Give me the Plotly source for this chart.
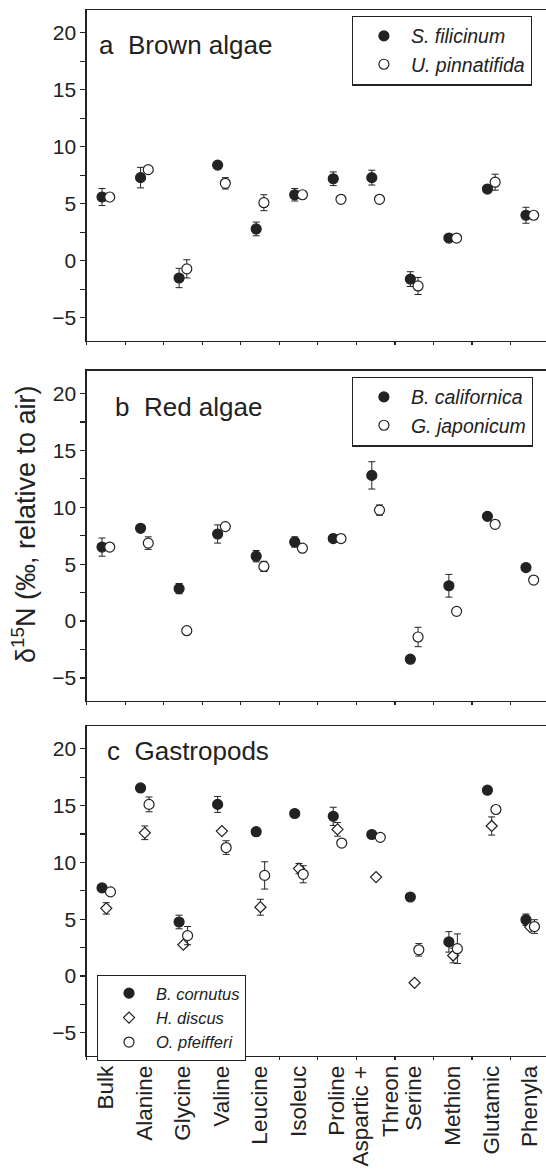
import numpy as np
import plotly.graph_objects as go

categories = ["Bulk", "Alanine", "Glycine", "Valine", "Leucine", "Isoleuc", "Proline",
              "Aspartic +<br>Threon", "Serine", "Methion", "Glutamic", "Phenyla"]

# Panel a: Brown algae
s_filicinum = [5.6, 7.3, -1.5, 8.4, 2.8, 5.8, 7.2, 7.3, -1.6, 2.0, 6.3, 4.0]
s_filicinum_err = [0.75, 0.9, 0.85, 0, 0.6, 0.55, 0.6, 0.65, 0.65, 0, 0, 0.7]
u_pinnatifida = [5.6, 8.0, -0.7, 6.8, 5.1, 5.8, 5.4, 5.4, -2.2, 2.0, 6.9, 4.0]
u_pinnatifida_err = [0, 0, 0.8, 0.5, 0.7, 0, 0, 0, 0.75, 0, 0.7, 0]

# Panel b: Red algae
b_californica = [6.5, 8.15, 2.85, 7.65, 5.7, 6.95, 7.25, 12.8, -3.35, 3.1, 9.2, 4.7]
b_californica_err = [0.8, 0, 0.45, 0.8, 0.5, 0.45, 0, 1.2, 0, 1.0, 0, 0]
g_japonicum = [6.5, 6.85, -0.85, 8.3, 4.8, 6.4, 7.25, 9.75, -1.4, 0.85, 8.5, 3.6]
g_japonicum_err = [0, 0.55, 0, 0, 0.45, 0, 0, 0.45, 0.85, 0, 0, 0]

# Panel c: Gastropods
b_cornutus = [7.75, 16.55, 4.75, 15.1, 12.7, 14.3, 14.05, 12.45, 6.95, 3.0, 16.35, 4.95]
b_cornutus_err = [0, 0, 0.6, 0.7, 0, 0, 0.8, 0, 0, 0.9, 0, 0.5]
h_discus = [5.95, 12.6, 2.75, 12.75, 6.05, 9.45, 12.9, 8.7, -0.6, 1.8, 13.2, 4.3]
h_discus_err = [0.5, 0.6, 0, 0, 0.7, 0.45, 0.6, 0, 0, 0.65, 0.8, 0]
o_pfeifferi = [7.4, 15.1, 3.55, 11.3, 8.85, 8.95, 11.7, 12.2, 2.3, 2.4, 14.65, 4.35]
o_pfeifferi_err = [0, 0.65, 0.8, 0.6, 1.2, 0.75, 0, 0, 0.55, 1.3, 0, 0.6]

W, H = 546, 1170
pos = np.arange(len(categories))
bounds = np.arange(len(categories) + 1) - 0.5
XRANGE = [-0.5, 11.42]
YRANGE = [-7, 22]
X0 = 86.6 / W
INK = "#222222"
FONT = "Liberation Sans, Arial, sans-serif"

def py(px):
    return 1 - px / H

domains = [(py(340.7), py(10)), (py(700.7), py(370.7)), (py(1055.5), py(726))]

fig = go.Figure()

def add(series, err, name, xi, legend, offset, symbol, filled, size=10):
    sfx = "" if xi == 1 else str(xi)
    fig.add_trace(go.Scatter(
        x=pos + offset, y=series, mode="markers", name=name,
        xaxis="x" + sfx, yaxis="y" + sfx, legend=legend,
        marker=dict(symbol=symbol, size=size,
                    color=INK if filled else "white",
                    line=dict(color=INK, width=1.2)),
        error_y=dict(type="data", array=err, visible=True, color=INK,
                     thickness=1, width=3.5),
        cliponaxis=False,
    ))

add(s_filicinum, s_filicinum_err, "<i>S. filicinum</i>", 1, "legend", -0.1, "circle", True)
add(u_pinnatifida, u_pinnatifida_err, "<i>U. pinnatifida</i>", 1, "legend", 0.1, "circle", False)
add(b_californica, b_californica_err, "<i>B. californica</i>", 2, "legend2", -0.1, "circle", True)
add(g_japonicum, g_japonicum_err, "<i>G. japonicum</i>", 2, "legend2", 0.1, "circle", False)
add(b_cornutus, b_cornutus_err, "<i>B. cornutus</i>", 3, "legend3", -0.1, "circle", True)
add(h_discus, h_discus_err, "<i>H. discus</i>", 3, "legend3", 0.01, "diamond", False, 8.5)
add(o_pfeifferi, o_pfeifferi_err, "<i>O. pfeifferi</i>", 3, "legend3", 0.12, "circle", False)

layout = dict(
    template="none",
    width=W, height=H, margin=dict(l=0, r=0, t=0, b=0, pad=0, autoexpand=False),
    paper_bgcolor="white", plot_bgcolor="white",
    font=dict(family=FONT, color=INK, size=20),
    showlegend=True,
)

for i, (d0, d1) in enumerate(domains):
    n = i + 1
    sfx = "" if n == 1 else str(n)
    ov = str(n + 3)
    layout["xaxis" + sfx] = dict(
        domain=[X0, 1], range=XRANGE, anchor="y" + sfx, automargin=False,
        showline=True, linecolor=INK, linewidth=1.3, mirror=True,
        showgrid=False, zeroline=False,
        tickmode="array", tickvals=list(pos),
        ticktext=categories, showticklabels=(n == 3),
        tickangle=-90, tickfont=dict(size=22.5),
        ticks="outside", ticklen=0, tickcolor=INK,
        minor=dict(tickmode="linear", tick0=-0.5, dtick=1, ticks="outside",
                   ticklen=3, tickwidth=1.2, tickcolor=INK, showgrid=False),
    )
    layout["xaxis" + ov] = dict(
        overlaying="x" + sfx, anchor="y" + sfx, range=XRANGE, side="bottom",
        automargin=False,
        showline=False, showgrid=False, zeroline=False, showticklabels=False,
        tickmode="array", tickvals=list(bounds),
        ticks="inside", ticklen=3, tickwidth=1.2, tickcolor=INK,
    )
    layout["yaxis" + sfx] = dict(
        domain=[d0, d1], range=YRANGE, anchor="x" + sfx, automargin=False,
        showline=True, linecolor=INK, linewidth=1.3,
        showgrid=False, zeroline=False,
        tickmode="linear", tick0=0, dtick=5,
        ticks="outside", ticklen=5, tickwidth=1.2, tickcolor=INK,
        tickfont=dict(size=21),
        minor=dict(tickmode="linear", tick0=0, dtick=2.5, ticks="outside",
                   ticklen=5, tickwidth=1.2, tickcolor=INK, showgrid=False),
    )
    layout["yaxis" + ov] = dict(
        overlaying="y" + sfx, anchor="x" + sfx, range=YRANGE, side="left",
        automargin=False,
        showline=False, showgrid=False, zeroline=False, showticklabels=False,
        tickmode="linear", tick0=0, dtick=5,
        ticks="inside", ticklen=4, tickwidth=1.2, tickcolor=INK,
    )

leg_common = dict(bgcolor="white", bordercolor=INK, borderwidth=1.2,
                  xanchor="left", yanchor="top", itemwidth=44, indentation=4,
                  itemclick=False, itemdoubleclick=False)
layout["legend"] = dict(x=351.7 / W, y=py(15.5), font=dict(size=19.5, color=INK), **leg_common)
layout["legend2"] = dict(x=351.7 / W, y=py(376.5), font=dict(size=19.5, color=INK), **leg_common)
layout["legend3"] = dict(x=96.8 / W, y=py(974.7), font=dict(size=16.5, color=INK), **leg_common)

layout["annotations"] = [
    dict(text="a\u00a0\u00a0Brown algae", x=96.8 / W, y=py(45), xref="paper", yref="paper",
         xanchor="left", yanchor="middle", showarrow=False, font=dict(size=26)),
    dict(text="b\u00a0\u00a0Red algae", x=113 / W, y=py(406.7), xref="paper", yref="paper",
         xanchor="left", yanchor="middle", showarrow=False, font=dict(size=26)),
    dict(text="c\u00a0\u00a0Gastropods", x=104.5 / W, y=py(750.7), xref="paper", yref="paper",
         xanchor="left", yanchor="middle", showarrow=False, font=dict(size=26)),
    dict(text="δ<sup>15</sup>N (‰, relative to air)", x=24 / W, y=py(524), xref="paper", yref="paper",
         xanchor="center", yanchor="middle", textangle=-90, showarrow=False, font=dict(size=27)),
]

fig.update_layout(**layout)
fig.write_html("out.html", config={"displayModeBar": False, "staticPlot": True},
               post_script="document.body.style.margin='0px';document.body.style.overflow='hidden';")
